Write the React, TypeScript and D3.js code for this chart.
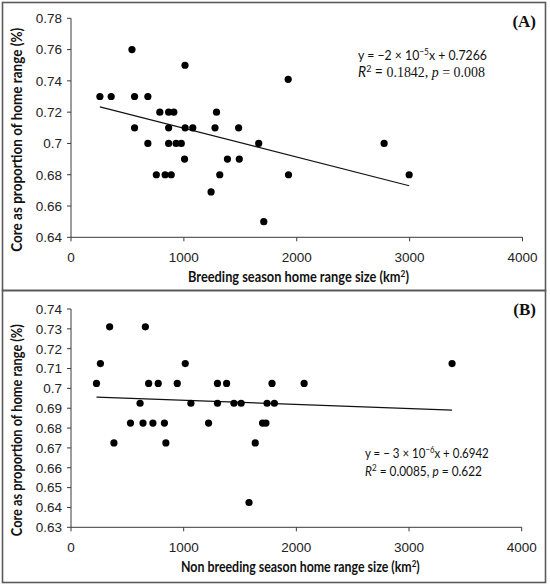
import { useLayoutEffect, useRef, useState } from 'react';
import type { ReactNode } from 'react';
import { scaleLinear, extent } from 'd3';

const WIDTH = 550;
const HEIGHT = 585;

// Panel A: breeding season
const breedingX = [
  540, 1010, 1924,
  256, 356, 563, 681,
  787, 865, 911, 1289,
  563, 865, 1011, 1079, 1276, 1485,
  681, 865, 931, 977, 1663, 2774,
  1006, 1386, 1491,
  756, 834, 888, 1318, 1927, 2996,
  1241,
  1708,
];
const breedingY = [
  0.76, 0.75, 0.741,
  0.73, 0.73, 0.73, 0.73,
  0.72, 0.72, 0.72, 0.72,
  0.71, 0.71, 0.71, 0.71, 0.71, 0.71,
  0.70, 0.70, 0.70, 0.70, 0.70, 0.70,
  0.69, 0.69, 0.69,
  0.68, 0.68, 0.68, 0.68, 0.68, 0.68,
  0.669,
  0.65,
];
// trend line as drawn in the figure: [intercept, slope]
const breedingTrend = [0.7281, -1.84e-5];

// Panel B: non breeding season
const nonBreedingX = [
  343, 660,
  261, 1014, 3382,
  226, 689, 774, 943, 1300, 1381, 1784, 2069,
  613, 1064, 1300, 1446, 1510, 1740, 1805,
  528, 639, 727, 829, 1221, 1700, 1730,
  381, 842, 1635,
  1580,
];
const nonBreedingY = [
  0.731, 0.731,
  0.7125, 0.7125, 0.7125,
  0.7025, 0.7025, 0.7025, 0.7025, 0.7025, 0.7025, 0.7025, 0.7025,
  0.6925, 0.6925, 0.6925, 0.6925, 0.6925, 0.6925, 0.6925,
  0.6825, 0.6825, 0.6825, 0.6825, 0.6825, 0.6825, 0.6825,
  0.6725, 0.6725, 0.6725,
  0.6425,
];
const nonBreedingTrend = [0.6961, -2.1e-6];

const xTicks = [0, 1000, 2000, 3000, 4000];
const yTicksA = [0.64, 0.66, 0.68, 0.7, 0.72, 0.74, 0.76, 0.78];
const yTicksB = [0.63, 0.64, 0.65, 0.66, 0.67, 0.68, 0.69, 0.7, 0.71, 0.72, 0.73, 0.74];

const AXIS = '#3a3a3a';
const SANS = 'Lato, "Liberation Sans", sans-serif';
const TICK_FONT = '"Liberation Sans", Arial, sans-serif';
const SERIF = '"Liberation Serif", "Times New Roman", serif';

// squeezes a text horizontally to a measured width (the original uses a narrow font)
function FitText({ x, y, width, children, ...rest }: {
  x: number; y: number; width: number; children: ReactNode; [k: string]: unknown;
}) {
  const ref = useRef<SVGTextElement>(null);
  const [k, setK] = useState(1);
  useLayoutEffect(() => {
    const w = ref.current?.getBBox().width;
    if (w) setK(width / w);
  }, [width]);
  return (
    <text ref={ref} transform={`translate(${x},${y}) scale(${k},1)`} {...rest}>
      {children}
    </text>
  );
}

interface PanelProps {
  xs: number[];
  ys: number[];
  trend: number[];
  yTicks: number[];
  left: number;
  right: number;
  top: number;
  bottom: number;
  xTitle: string;
  xTitleX: number;
  xTitleLen: number;
  yTitleLen: number;
  label: string;
  frameTop: number;
  frameBottom: number;
  children?: ReactNode;
}

function Panel(p: PanelProps) {
  const x = scaleLinear().domain([0, 4000]).range([p.left, p.right]);
  const y = scaleLinear().domain(extent(p.yTicks) as [number, number]).range([p.bottom, p.top]);
  const [b0, b1] = p.trend;
  const [x0, x1] = extent(p.xs) as [number, number];
  const fmt = (v: number) => String(+v.toFixed(2));

  return (
    <g>
      <rect
        x={2.5} y={p.frameTop} width={543} height={p.frameBottom - p.frameTop}
        fill="none" stroke="#5a5a5a" strokeWidth={1.6}
      />
      {/* y axis */}
      <line x1={p.left} x2={p.left} y1={p.top} y2={p.bottom} stroke={AXIS} />
      {p.yTicks.map(t => (
        <g key={t}>
          <line x1={p.left - 4} x2={p.left} y1={y(t)} y2={y(t)} stroke={AXIS} />
          <text
            x={p.left - 9} y={y(t)} dy="0.36em" textAnchor="end"
            fontFamily={TICK_FONT} fontSize={13.5} fill="#222"
          >{fmt(t)}</text>
        </g>
      ))}
      {/* x axis */}
      <line x1={p.left} x2={p.right} y1={p.bottom} y2={p.bottom} stroke={AXIS} />
      {xTicks.map(t => (
        <g key={t}>
          <line x1={x(t)} x2={x(t)} y1={p.bottom} y2={p.bottom + 4} stroke={AXIS} />
          <text
            x={x(t)} y={p.bottom + 25} textAnchor="middle"
            fontFamily={TICK_FONT} fontSize={13.5} fill="#222"
          >{t}</text>
        </g>
      ))}
      {/* trend line */}
      <line
        x1={x(x0)} y1={y(b0 + b1 * x0)}
        x2={x(x1)} y2={y(b0 + b1 * x1)}
        stroke="#111" strokeWidth={1.2}
      />
      {p.xs.map((v, i) => (
        <circle key={i} cx={x(v)} cy={y(p.ys[i])} r={3.6} fill="#000" />
      ))}
      <FitText
        x={p.xTitleX} y={p.bottom + 45} width={p.xTitleLen}
        fontFamily={SANS} fontWeight={700} fontSize={15.5} fill="#111"
      >
        {p.xTitle}
        <tspan fontSize={10} dy={-5}>2</tspan>
        <tspan dy={5}>)</tspan>
      </FitText>
      <text
        transform={`translate(22,${(p.top + p.bottom) / 2 + 12}) rotate(-90)`}
        textAnchor="middle" fontFamily={SANS} fontWeight={700} fontSize={15} fill="#111"
        textLength={p.yTitleLen} lengthAdjust="spacingAndGlyphs"
      >Core as proportion of home range (%)</text>
      <text
        x={536} y={p.frameTop + 24} textAnchor="end"
        fontFamily={SERIF} fontWeight={700} fontSize={17} fill="#111"
      >{p.label}</text>
      {p.children}
    </g>
  );
}

export default function App() {
  return (
    <div style={{ position: 'fixed', left: 0, top: 0 }}>
      <svg width={WIDTH} height={HEIGHT} style={{ display: 'block', background: '#fff' }}>
        <Panel
          xs={breedingX} ys={breedingY} trend={breedingTrend} yTicks={yTicksA}
          left={71} right={522.5} top={18.3} bottom={237.3}
          xTitle="Breeding season home range size (km" xTitleX={188} xTitleLen={221}
          yTitleLen={224} label="(A)" frameTop={2.5} frameBottom={290.5}
        >
          <FitText x={358} y={60} width={129} fontFamily={SANS} fontSize={14} fill="#111">
            y = −2 × 10<tspan fontSize={9.5} dy={-5}>−5</tspan>
            <tspan dy={5}>x + 0.7266</tspan>
          </FitText>
          <FitText x={358} y={77} width={127} fontFamily={SERIF} fontSize={15} fill="#111">
            <tspan fontStyle="italic" fontFamily={SANS}>R</tspan>
            <tspan fontSize={9.5} dy={-5} fontFamily={SANS}>2</tspan>
            <tspan dy={5} fontFamily={SANS}> = </tspan>0.1842, <tspan fontStyle="italic">p</tspan> = 0.008
          </FitText>
        </Panel>
        <Panel
          xs={nonBreedingX} ys={nonBreedingY} trend={nonBreedingTrend} yTicks={yTicksB}
          left={71} right={521.7} top={309} bottom={527.3}
          xTitle="Non breeding season home range size (km" xTitleX={181} xTitleLen={239}
          yTitleLen={212} label="(B)" frameTop={290.5} frameBottom={582.5}
        >
          <FitText x={365} y={458} width={124} fontFamily={SANS} fontSize={14} fill="#111">
            y = − 3 × 10<tspan fontSize={9.5} dy={-5}>−6</tspan>
            <tspan dy={5}>x + 0.6942</tspan>
          </FitText>
          <FitText x={365} y={476} width={117} fontFamily={SANS} fontSize={14} fill="#111">
            <tspan fontStyle="italic">R</tspan>
            <tspan fontSize={9.5} dy={-5}>2</tspan>
            <tspan dy={5}> = 0.0085, </tspan>
            <tspan fontStyle="italic">p</tspan> = 0.622
          </FitText>
        </Panel>
      </svg>
    </div>
  );
}
